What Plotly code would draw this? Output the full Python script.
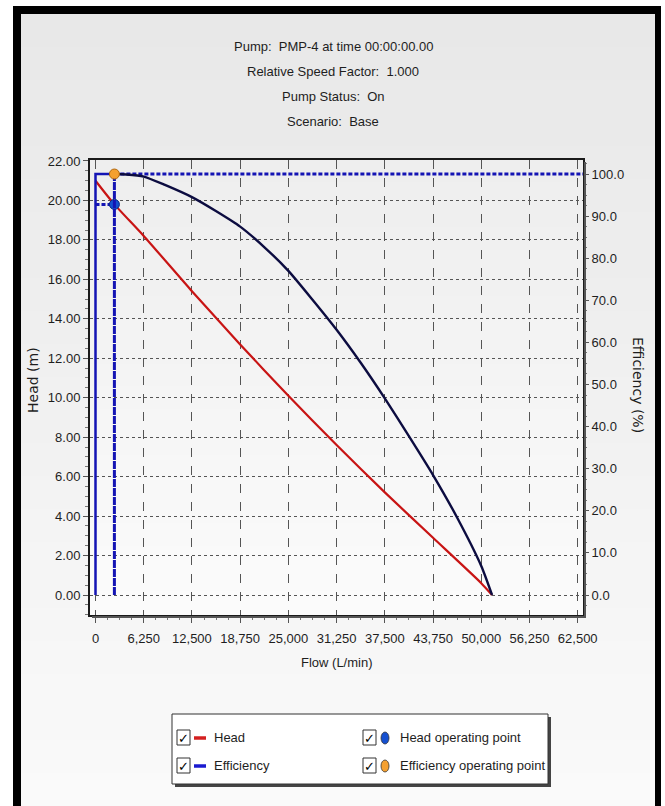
import plotly.graph_objects as go

# ---------------- data ----------------
head_flow = [0, 2450, 6250, 12500, 18750, 25000, 31250, 37500, 43750, 50000, 51400]
head_vals = [21.0, 19.8, 18.2, 15.4, 12.7, 10.1, 7.6, 5.2, 2.9, 0.6, 0.0]

eff_flow = [2450, 4000, 6250, 9000, 12500, 15600, 18750, 21900, 25000, 28100, 31250,
            34400, 37500, 40600, 43750, 46900, 50000, 51400]
eff_vals = [100.0, 99.9, 99.4, 97.4, 94.5, 91.2, 87.5, 82.6, 77.0, 70.2, 63.0,
            55.1, 46.7, 37.8, 28.5, 18.3, 6.9, 0.0]

op_flow = 2450
op_head = 19.8
op_eff = 100.0

x_ticks = [0, 6250, 12500, 18750, 25000, 31250, 37500, 43750, 50000, 56250, 62500]
title_lines = ["Pump:  PMP-4 at time 00:00:00.00", "Relative Speed Factor:  1.000",
               "Pump Status:  On", "Scenario:  Base"]

# ---------------- layout constants (pixels) ----------------
W, H = 665, 806
L, R, T, B = 90, 583, 160, 615
PW, PH = R - L, B - T
X_RANGE = [-713, 63187]
Y_RANGE = [-1.014, 22.05]
Y2_RANGE = [-4.75, 103.33]

FONT = "Liberation Sans, Arial, sans-serif"
TXT = "#1e1e1e"


def px(xp):
    return (xp - L) / PW


def py(yp):
    return (B - yp) / PH


def blend(c1, c2, t):
    return "rgb(%d,%d,%d)" % tuple(round(a + (b - a) * t) for a, b in zip(c1, c2))


fig = go.Figure()

blue = "#1414b4"
dash = "4px,2px"

# Efficiency (blue solid part) from axis to operating point
fig.add_trace(go.Scatter(x=[0, 0, op_flow], y=[0, op_eff, op_eff], yaxis="y2", mode="lines",
                         line=dict(color=blue, width=2.5), name="Efficiency", showlegend=False))
# operating-point guide lines
fig.add_trace(go.Scatter(x=[op_flow, X_RANGE[1]], y=[op_eff, op_eff], yaxis="y2", mode="lines",
                         line=dict(color=blue, width=3.2, dash=dash), showlegend=False))
fig.add_trace(go.Scatter(x=[op_flow, op_flow], y=[0, op_eff], yaxis="y2", mode="lines",
                         line=dict(color=blue, width=3, dash="8px,1px"), showlegend=False))
fig.add_trace(go.Scatter(x=[0, op_flow], y=[op_head, op_head], yaxis="y", mode="lines",
                         line=dict(color=blue, width=3, dash=dash), showlegend=False))
# Head curve
fig.add_trace(go.Scatter(x=head_flow, y=head_vals, yaxis="y", mode="lines",
                         line=dict(color="#c81414", width=2.2, shape="spline", smoothing=0.6),
                         name="Head", showlegend=False))
# Efficiency curve
fig.add_trace(go.Scatter(x=eff_flow, y=eff_vals, yaxis="y2", mode="lines",
                         line=dict(color="#0c0c40", width=2.4, shape="spline", smoothing=0.6),
                         showlegend=False))
# operating points
fig.add_trace(go.Scatter(x=[op_flow], y=[op_head], yaxis="y", mode="markers",
                         marker=dict(color="#1550d0", size=10, line=dict(color="#0a2a80", width=1)),
                         name="Head operating point", showlegend=False))
fig.add_trace(go.Scatter(x=[op_flow], y=[op_eff], yaxis="y2", mode="markers",
                         marker=dict(color="#f4a030", size=10, line=dict(color="#b06810", width=1)),
                         name="Efficiency operating point", showlegend=False))

shapes = []
# page background + frame
n = 24
for i in range(n):
    y0 = 14 + (H - 14) * i / n
    y1 = 14 + (H - 14) * (i + 1) / n
    shapes.append(dict(type="rect", xref="paper", yref="paper", x0=px(21), x1=px(655),
                       y0=py(y1 + 0.5), y1=py(y0), line=dict(width=0),
                       fillcolor=blend((232, 232, 232), (250, 250, 250), i / (n - 1)), layer="below"))
for (x0, x1, y0, y1) in [(13, 21, 6, H), (13, 661, 6, 14), (655, 661, 6, H)]:
    shapes.append(dict(type="rect", xref="paper", yref="paper", x0=px(x0), x1=px(x1),
                       y0=py(y1), y1=py(y0), line=dict(width=0), fillcolor="#000000", layer="below"))
# plot area gradient
m = 20
for i in range(m):
    shapes.append(dict(type="rect", xref="x domain", yref="y domain", x0=0, x1=1,
                       y0=1 - (i + 1) / m, y1=1 - i / m + 0.002, line=dict(width=0),
                       fillcolor=blend((238, 238, 238), (251, 251, 251), i / (m - 1)), layer="below"))
# plot shadow
shapes.append(dict(type="rect", xref="paper", yref="paper", x0=px(R + 1), x1=px(R + 3),
                   y0=py(B + 3), y1=py(T + 2), line=dict(width=0), fillcolor="#555555"))
shapes.append(dict(type="rect", xref="paper", yref="paper", x0=px(L + 2), x1=px(R + 3),
                   y0=py(B + 3), y1=py(B + 1), line=dict(width=0), fillcolor="#555555"))

annotations = []
for i, t in enumerate(title_lines):
    annotations.append(dict(text=t, xref="paper", yref="paper", x=px(333), y=py(46 + 25 * i),
                            showarrow=False, font=dict(family=FONT, size=13, color=TXT),
                            xanchor="center", yanchor="middle"))
annotations.append(dict(text="Flow (L/min)", xref="paper", yref="paper", x=px(337), y=py(662),
                        showarrow=False, font=dict(family=FONT, size=13, color=TXT),
                        xanchor="center", yanchor="middle"))
annotations.append(dict(text="Head (m)", xref="paper", yref="paper", x=px(33), y=py(380),
                        showarrow=False, textangle=-90,
                        font=dict(family="DejaVu Sans, Verdana, sans-serif", size=14, color=TXT),
                        xanchor="center", yanchor="middle"))
annotations.append(dict(text="Efficiency (%)", xref="paper", yref="paper", x=px(638), y=py(385),
                        showarrow=False, textangle=90,
                        font=dict(family="DejaVu Sans, Verdana, sans-serif", size=14, color=TXT),
                        xanchor="center", yanchor="middle"))

# ---------------- legend (drawn) ----------------
lx0, lx1, ly0, ly1 = 172, 548, 714, 784
shapes.append(dict(type="rect", xref="paper", yref="paper", x0=px(lx0 + 3), x1=px(lx1 + 3),
                   y0=py(ly1 + 3), y1=py(ly0 + 3), line=dict(width=0), fillcolor="#444444"))
shapes.append(dict(type="rect", xref="paper", yref="paper", x0=px(lx0), x1=px(lx1),
                   y0=py(ly1), y1=py(ly0), line=dict(color="#333333", width=1), fillcolor="#ffffff"))
rows = [737, 765]
items = [
    (177, rows[0], "line", "#d42020", "Head"),
    (177, rows[1], "line", "#1a1ad0", "Efficiency"),
    (363, rows[0], "dot", "#1550d0", "Head operating point"),
    (363, rows[1], "dot", "#f4a030", "Efficiency operating point"),
]
for (cx, cy, kind, col, label) in items:
    shapes.append(dict(type="rect", xref="paper", yref="paper", x0=px(cx), x1=px(cx + 13),
                       y0=py(cy + 8), y1=py(cy - 7), line=dict(color="#333333", width=1),
                       fillcolor="#ffffff"))
    annotations.append(dict(text="✓", xref="paper", yref="paper", x=px(cx + 6.5), y=py(cy + 1),
                            showarrow=False, font=dict(family="DejaVu Sans", size=13, color="#000"),
                            xanchor="center", yanchor="middle"))
    if kind == "line":
        shapes.append(dict(type="line", xref="paper", yref="paper", x0=px(cx + 17), x1=px(cx + 29),
                           y0=py(cy + 1), y1=py(cy + 1), line=dict(color=col, width=3.5)))
    else:
        shapes.append(dict(type="circle", xref="paper", yref="paper", x0=px(cx + 18), x1=px(cx + 26),
                           y0=py(cy + 7), y1=py(cy - 5), line=dict(color="#333", width=0.8),
                           fillcolor=col))
    annotations.append(dict(text=label, xref="paper", yref="paper", x=px(cx + 35), y=py(cy),
                            showarrow=False, font=dict(family=FONT, size=13, color=TXT),
                            xanchor="left", yanchor="middle"))

tickfont = dict(family=FONT, size=13, color=TXT)
fig.update_layout(
    width=W, height=H,
    margin=dict(l=L, r=W - R, t=T, b=H - B, pad=0),
    paper_bgcolor="#ffffff",
    plot_bgcolor="rgba(0,0,0,0)",
    showlegend=False,
    xaxis=dict(range=X_RANGE, tickvals=x_ticks, tickformat=",", tickfont=tickfont,
               showgrid=True, gridcolor="#555555", griddash="dash", gridwidth=1,
               zeroline=False, showline=True, linecolor="#1a1a1a", linewidth=2, mirror=True,
               ticks="outside", ticklen=6, tickcolor="#555", ticklabelstandoff=4,
               minor=dict(dtick=1562.5, tick0=0, ticks="outside", ticklen=3, tickcolor="#777",
                          showgrid=False)),
    yaxis=dict(range=Y_RANGE, dtick=2, tick0=0, tickformat=".2f", tickfont=tickfont,
               showgrid=True, gridcolor="#555555", griddash="dot", gridwidth=1.2,
               zeroline=False, showline=True, linecolor="#1a1a1a", linewidth=2, mirror=True,
               ticks="outside", ticklen=5, tickcolor="#555",
               minor=dict(dtick=0.5, tick0=0, ticks="outside", ticklen=3, tickcolor="#777",
                          showgrid=False)),
    yaxis2=dict(range=Y2_RANGE, dtick=10, tick0=0, tickformat=".1f", tickfont=tickfont,
                overlaying="y", side="right", showgrid=False, zeroline=False,
                ticks="outside", ticklen=5, tickcolor="#555",
                minor=dict(dtick=2.5, tick0=0, ticks="outside", ticklen=3, tickcolor="#777")),
    shapes=shapes,
    annotations=annotations,
)

fig.write_html("out.html")
